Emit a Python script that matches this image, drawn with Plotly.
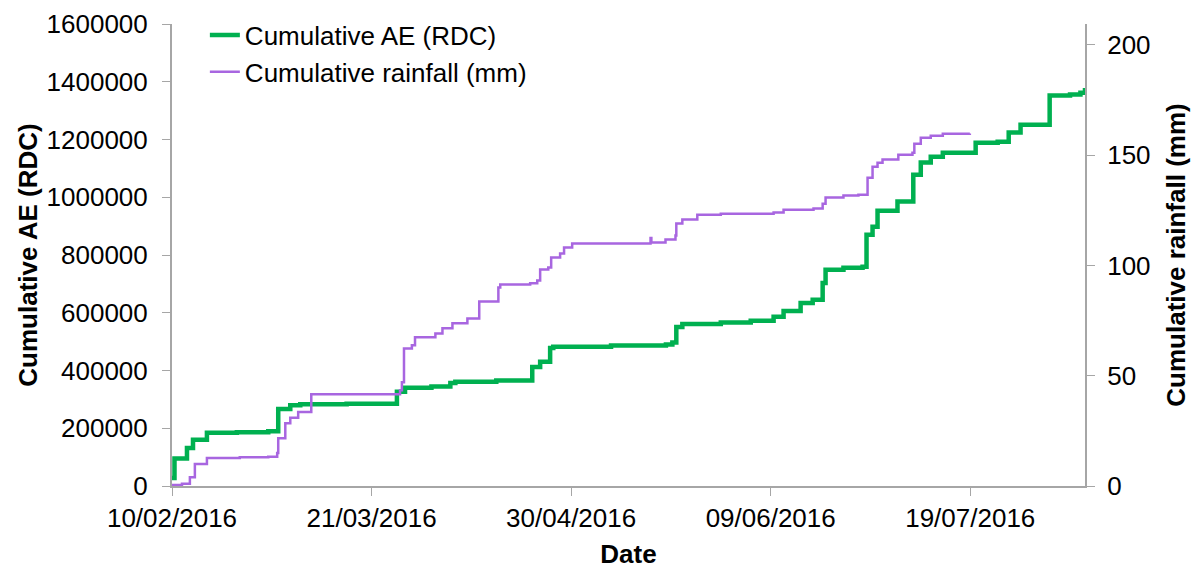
import plotly.graph_objects as go

# Cumulative AE (RDC) – step series (value holds until next timestamp)
ae_dates = [
    "2016-02-10 00:00", "2016-02-10 12:00", "2016-02-13 00:00", "2016-02-14 05:00",
    "2016-02-17 00:00", "2016-02-23 00:00", "2016-02-29 07:00", "2016-03-02 07:00",
    "2016-03-04 17:00", "2016-03-06 17:00", "2016-03-16 00:00", "2016-03-26 02:00",
    "2016-03-27 17:00", "2016-04-02 00:00", "2016-04-05 19:00", "2016-04-06 19:00",
    "2016-04-15 00:00", "2016-04-22 05:00", "2016-04-23 19:00", "2016-04-25 19:00",
    "2016-04-26 10:00", "2016-05-08 00:00", "2016-05-19 00:00", "2016-05-20 07:00",
    "2016-05-21 02:00", "2016-05-22 07:00", "2016-05-30 00:00", "2016-06-05 00:00",
    "2016-06-09 14:00", "2016-06-11 14:00", "2016-06-15 00:00", "2016-06-17 10:00",
    "2016-06-19 10:00", "2016-06-20 00:00", "2016-06-23 14:00", "2016-06-27 10:00",
    "2016-06-28 05:00", "2016-06-29 10:00", "2016-06-30 10:00", "2016-07-04 10:00",
    "2016-07-07 14:00", "2016-07-09 02:00", "2016-07-11 02:00", "2016-07-13 12:00",
    "2016-07-20 02:00", "2016-07-24 12:00", "2016-07-26 17:00", "2016-07-29 02:00",
    "2016-08-03 22:00", "2016-08-08 00:00", "2016-08-10 02:00", "2016-08-11 00:00",
]
ae_values = [
    28000, 95000, 132000, 160000,
    184000, 186000, 190000, 267000,
    280000, 283000, 285000, 326000,
    340000, 345000, 357000, 361000,
    365000, 412000, 430000, 478000,
    482000, 487000, 490000, 497000,
    551000, 561000, 566000, 572000,
    586000, 606000, 634000, 645000,
    703000, 749000, 756000, 759000,
    870000, 898000, 953000, 985000,
    1078000, 1120000, 1140000, 1154000,
    1189000, 1192000, 1224000, 1251000,
    1352000, 1356000, 1362000, 1378000,
]

# Cumulative rainfall (mm)
rain_dates = [
    "2016-02-10 00:00", "2016-02-12 00:00", "2016-02-13 14:00", "2016-02-14 14:00",
    "2016-02-17 00:00", "2016-02-23 14:00", "2016-02-29 07:00", "2016-03-02 02:00",
    "2016-03-02 07:00", "2016-03-03 17:00", "2016-03-04 17:00", "2016-03-06 07:00",
    "2016-03-08 22:00", "2016-03-26 17:00", "2016-03-27 02:00", "2016-03-27 12:00",
    "2016-03-29 02:00", "2016-03-29 17:00", "2016-04-02 19:00", "2016-04-04 05:00",
    "2016-04-06 05:00", "2016-04-09 05:00", "2016-04-11 14:00", "2016-04-15 10:00",
    "2016-04-15 19:00", "2016-04-21 19:00", "2016-04-23 05:00", "2016-04-23 19:00",
    "2016-04-25 10:00", "2016-04-26 00:00", "2016-04-27 19:00", "2016-04-28 14:00",
    "2016-04-30 05:00", "2016-05-15 22:00", "2016-05-16 02:00", "2016-05-18 22:00",
    "2016-05-20 22:00", "2016-05-21 02:00", "2016-05-22 07:00", "2016-05-25 07:00",
    "2016-05-30 00:00", "2016-06-09 14:00", "2016-06-11 14:00", "2016-06-17 14:00",
    "2016-06-19 10:00", "2016-06-20 00:00", "2016-06-23 14:00", "2016-06-26 14:00",
    "2016-06-28 10:00", "2016-06-29 10:00", "2016-06-30 10:00", "2016-07-01 10:00",
    "2016-07-04 14:00", "2016-07-07 10:00", "2016-07-07 19:00", "2016-07-09 02:00",
    "2016-07-11 02:00", "2016-07-13 12:00", "2016-07-18 22:00",
]
rain_values = [
    0.5, 1, 4, 10,
    12.7, 13, 13.3, 15,
    21.7, 28.5, 31, 33.5,
    41.6, 43.4, 47, 62.4,
    63.8, 67.4, 69.2, 71.5,
    73.8, 76, 83.7, 90,
    91.4, 91.9, 93.2, 98.2,
    99.1, 103.6, 105.4, 108.1,
    110, 112.5, 110.4, 111.8,
    113.6, 119, 120.8, 123,
    123.5, 124, 125.3, 125.8,
    128, 130.8, 131.7, 132.1,
    139.8, 144.8, 146.6, 148,
    150.2, 151.1, 155.2, 157.9,
    158.8, 159.7, 159.8,
]

x_tick_start = "2016-02-10"
x_range = ["2016-02-10", "2016-08-11"]
left_ticks = [0, 200000, 400000, 600000, 800000, 1000000, 1200000, 1400000, 1600000]
right_ticks = [0, 50, 100, 150, 200]

FONT = "Liberation Sans, Arial, sans-serif"
AXIS_COL = "#A6A6A6"
FS = 26

fig = go.Figure()
fig.add_trace(go.Scatter(
    x=ae_dates, y=ae_values, name="Cumulative AE (RDC)", mode="lines",
    line=dict(color="#00B050", width=4.5, shape="hv"), yaxis="y",
))
fig.add_trace(go.Scatter(
    x=rain_dates, y=rain_values, name="Cumulative rainfall (mm)", mode="lines",
    line=dict(color="#A866E0", width=2.5, shape="hv"), yaxis="y2",
))

# page body has an 8px default margin, so the figure is 8px smaller each way
fig.update_layout(
    width=1191, height=561,
    margin=dict(l=164, r=114, t=16, b=83, autoexpand=False),
    plot_bgcolor="white", paper_bgcolor="white",
    font=dict(family=FONT, size=FS, color="#000000"),
    showlegend=True,
    legend=dict(x=0.036, y=1.027, xanchor="left", yanchor="top",
                bgcolor="rgba(0,0,0,0)", font=dict(size=FS),
                tracegroupgap=0),
    xaxis=dict(
        type="date", range=x_range, tick0=x_tick_start, dtick=40 * 86400000,
        tickformat="%d/%m/%Y", showgrid=False, zeroline=False,
        showline=True, linecolor=AXIS_COL, linewidth=2,
        ticks="outside", tickcolor=AXIS_COL, ticklen=8, automargin=False,
        tickfont=dict(size=FS),
        title=dict(text="<b>Date</b>", font=dict(size=FS), standoff=16),
    ),
    yaxis=dict(
        range=[0, 1600000], tickvals=left_ticks, tickformat="d",
        showgrid=False, zeroline=False,
        showline=True, linecolor=AXIS_COL, linewidth=2,
        ticks="outside", tickcolor=AXIS_COL, ticklen=8, automargin=False,
        ticklabelstandoff=9,
        tickfont=dict(size=FS),
        title=dict(text="<b>Cumulative AE (RDC)</b>", font=dict(size=FS), standoff=1),
    ),
    yaxis2=dict(
        overlaying="y", side="right", range=[0, 209.5], tickvals=right_ticks,
        showgrid=False, zeroline=False,
        showline=True, linecolor=AXIS_COL, linewidth=2,
        ticks="outside", tickcolor=AXIS_COL, ticklen=8, automargin=False,
        ticklabelstandoff=7,
        tickfont=dict(size=FS),
        title=dict(text="<b>Cumulative rainfall (mm)</b>", font=dict(size=FS), standoff=17),
    ),
)

fig.write_html("out.html")
